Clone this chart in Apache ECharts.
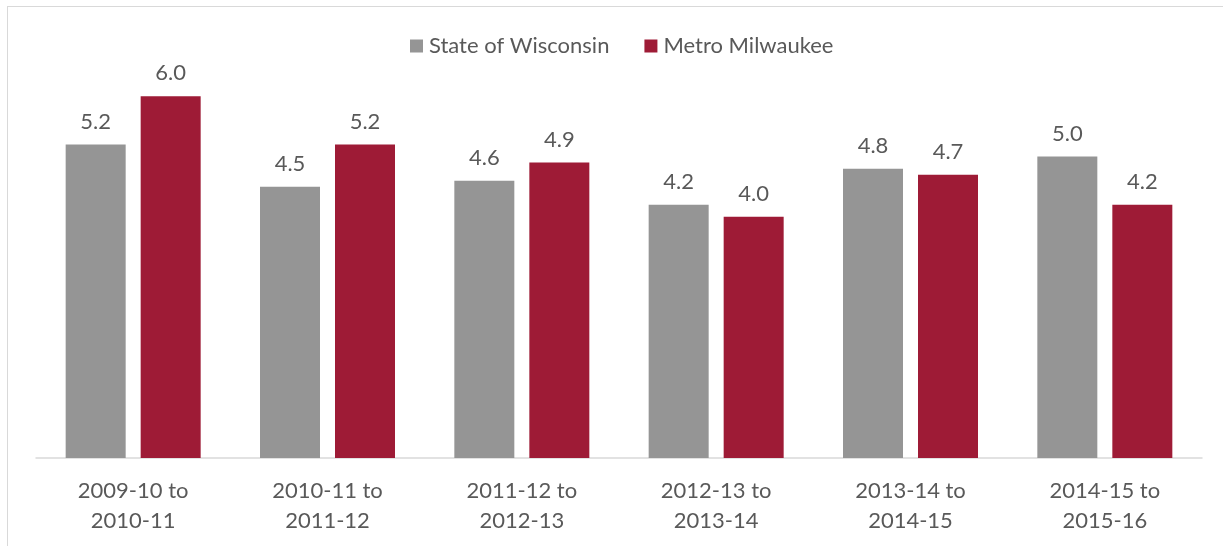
<!DOCTYPE html>
<html>
<head>
<meta charset="utf-8">
<script src="https://cdn.jsdelivr.net/npm/echarts@6/dist/echarts.min.js"></script>
<style>
  html, body { margin: 0; padding: 0; background: #fff; }
  #frame { position: absolute; left: 7px; top: 6px; width: 1230px; height: 560px; border: 1.5px solid #d9d9d9; box-sizing: border-box; }
  #chart { position: absolute; left: 0; top: 0; width: 1223px; height: 546px; }
</style>
</head>
<body>
<div id="frame"></div>
<div id="chart"></div>
<script>
const categories = ["2009-10 to\n2010-11", "2010-11 to\n2011-12", "2011-12 to\n2012-13", "2012-13 to\n2013-14", "2013-14 to\n2014-15", "2014-15 to\n2015-16"];
const wisconsin = [5.2, 4.5, 4.6, 4.2, 4.8, 5.0];
const milwaukee = [6.0, 5.2, 4.9, 4.0, 4.7, 4.2];

const font = "Lato, 'Open Sans', sans-serif";
const chart = echarts.init(document.getElementById("chart"));

const labelStyle = {
  show: true,
  position: "top",
  distance: 12,
  color: "#595959",
  fontSize: 22,
  fontFamily: font,
  formatter: p => p.value.toFixed(1)
};

chart.setOption({
  animation: false,
  legend: {
    data: ["State of Wisconsin", "Metro Milwaukee"],
    top: 30,
    left: 405,
    itemWidth: 13,
    itemHeight: 13,
    itemGap: 35,
    icon: "rect",
    textStyle: { fontSize: 22, color: "#595959", fontFamily: font, padding: [0, 0, 0, 1] }
  },
  grid: { left: 36, right: 21, top: 36, bottom: 88 },
  xAxis: {
    type: "category",
    data: categories,
    axisLine: { lineStyle: { color: "#d9d9d9", width: 1.5 } },
    axisTick: { show: false },
    axisLabel: { color: "#595959", fontSize: 22, fontFamily: font, lineHeight: 30, margin: 18 }
  },
  yAxis: {
    type: "value",
    min: 0,
    max: 7,
    show: false,
    splitLine: { show: false }
  },
  series: [
    {
      name: "State of Wisconsin",
      type: "bar",
      data: wisconsin,
      barWidth: 60,
      barGap: "25%",
      itemStyle: { color: "#959595" },
      label: labelStyle
    },
    {
      name: "Metro Milwaukee",
      type: "bar",
      data: milwaukee,
      barWidth: 60,
      itemStyle: { color: "#9e1b36" },
      label: labelStyle
    }
  ]
});
</script>
</body>
</html>
